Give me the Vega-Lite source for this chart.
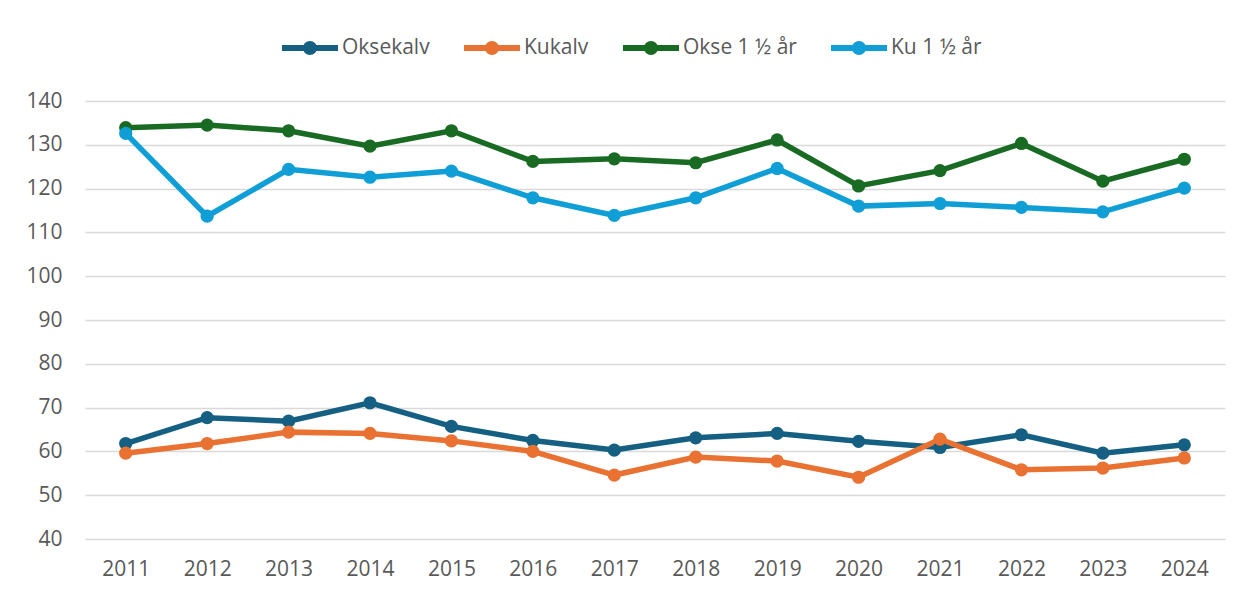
{
  "$schema": "https://vega.github.io/schema/vega-lite/v6.json",
  "width": 1140,
  "height": 438,
  "autosize": {"type": "none"},
  "padding": {"left": 85, "top": 101, "right": 27, "bottom": 55},
  "background": "white",
  "config": {
    "view": {"stroke": null},
    "font": "Open Sans"
  },
  "data": {
    "values": [
      {"year": "2011", "series": "Oksekalv", "value": 61.8},
      {"year": "2012", "series": "Oksekalv", "value": 67.7},
      {"year": "2013", "series": "Oksekalv", "value": 66.9},
      {"year": "2014", "series": "Oksekalv", "value": 71.1},
      {"year": "2015", "series": "Oksekalv", "value": 65.7},
      {"year": "2016", "series": "Oksekalv", "value": 62.5},
      {"year": "2017", "series": "Oksekalv", "value": 60.3},
      {"year": "2018", "series": "Oksekalv", "value": 63.1},
      {"year": "2019", "series": "Oksekalv", "value": 64.1},
      {"year": "2020", "series": "Oksekalv", "value": 62.3},
      {"year": "2021", "series": "Oksekalv", "value": 60.9},
      {"year": "2022", "series": "Oksekalv", "value": 63.8},
      {"year": "2023", "series": "Oksekalv", "value": 59.6},
      {"year": "2024", "series": "Oksekalv", "value": 61.5},
      {"year": "2011", "series": "Kukalv", "value": 59.6},
      {"year": "2012", "series": "Kukalv", "value": 61.8},
      {"year": "2013", "series": "Kukalv", "value": 64.4},
      {"year": "2014", "series": "Kukalv", "value": 64.1},
      {"year": "2015", "series": "Kukalv", "value": 62.4},
      {"year": "2016", "series": "Kukalv", "value": 60.0},
      {"year": "2017", "series": "Kukalv", "value": 54.6},
      {"year": "2018", "series": "Kukalv", "value": 58.7},
      {"year": "2019", "series": "Kukalv", "value": 57.8},
      {"year": "2020", "series": "Kukalv", "value": 54.1},
      {"year": "2021", "series": "Kukalv", "value": 62.8},
      {"year": "2022", "series": "Kukalv", "value": 55.8},
      {"year": "2023", "series": "Kukalv", "value": 56.2},
      {"year": "2024", "series": "Kukalv", "value": 58.5},
      {"year": "2011", "series": "Okse 1 ½ år", "value": 133.9},
      {"year": "2012", "series": "Okse 1 ½ år", "value": 134.5},
      {"year": "2013", "series": "Okse 1 ½ år", "value": 133.2},
      {"year": "2014", "series": "Okse 1 ½ år", "value": 129.7},
      {"year": "2015", "series": "Okse 1 ½ år", "value": 133.2},
      {"year": "2016", "series": "Okse 1 ½ år", "value": 126.2},
      {"year": "2017", "series": "Okse 1 ½ år", "value": 126.8},
      {"year": "2018", "series": "Okse 1 ½ år", "value": 125.9},
      {"year": "2019", "series": "Okse 1 ½ år", "value": 131.1},
      {"year": "2020", "series": "Okse 1 ½ år", "value": 120.6},
      {"year": "2021", "series": "Okse 1 ½ år", "value": 124.1},
      {"year": "2022", "series": "Okse 1 ½ år", "value": 130.3},
      {"year": "2023", "series": "Okse 1 ½ år", "value": 121.7},
      {"year": "2024", "series": "Okse 1 ½ år", "value": 126.7},
      {"year": "2011", "series": "Ku 1 ½ år", "value": 132.6},
      {"year": "2012", "series": "Ku 1 ½ år", "value": 113.7},
      {"year": "2013", "series": "Ku 1 ½ år", "value": 124.4},
      {"year": "2014", "series": "Ku 1 ½ år", "value": 122.6},
      {"year": "2015", "series": "Ku 1 ½ år", "value": 124.0},
      {"year": "2016", "series": "Ku 1 ½ år", "value": 117.9},
      {"year": "2017", "series": "Ku 1 ½ år", "value": 113.9},
      {"year": "2018", "series": "Ku 1 ½ år", "value": 117.9},
      {"year": "2019", "series": "Ku 1 ½ år", "value": 124.6},
      {"year": "2020", "series": "Ku 1 ½ år", "value": 116.0},
      {"year": "2021", "series": "Ku 1 ½ år", "value": 116.6},
      {"year": "2022", "series": "Ku 1 ½ år", "value": 115.7},
      {"year": "2023", "series": "Ku 1 ½ år", "value": 114.7},
      {"year": "2024", "series": "Ku 1 ½ år", "value": 120.1}
    ]
  },
  "encoding": {
    "x": {
      "field": "year",
      "type": "ordinal",
      "scale": {"type": "point", "padding": 0.5},
      "axis": {
        "title": null,
        "labelAngle": 0,
        "domain": false,
        "ticks": false,
        "grid": false,
        "labelFontSize": 21,
        "labelColor": "#595959",
        "labelPadding": 19
      }
    },
    "y": {
      "field": "value",
      "type": "quantitative",
      "scale": {"domain": [40, 140], "nice": false, "zero": false},
      "axis": {
        "title": null,
        "values": [40, 50, 60, 70, 80, 90, 100, 110, 120, 130, 140],
        "domain": false,
        "ticks": false,
        "grid": true,
        "gridColor": "#d9d9d9",
        "gridWidth": 1.5,
        "labelFontSize": 21,
        "labelColor": "#595959",
        "labelPadding": 23
      }
    },
    "color": {
      "field": "series",
      "type": "nominal",
      "sort": ["Oksekalv", "Kukalv", "Okse 1 ½ år", "Ku 1 ½ år"],
      "scale": {
        "domain": ["Oksekalv", "Kukalv", "Okse 1 ½ år", "Ku 1 ½ år"],
        "range": ["#156082", "#E97132", "#196B24", "#0F9ED5"]
      },
      "legend": {
        "title": null,
        "orient": "none",
        "direction": "horizontal",
        "legendX": 197,
        "legendY": -81,
        "symbolType": "M-1,-0.11L1,-0.11L1,0.11L-1,0.11Z M0.25,0A0.25,0.25 0 1,1 -0.25,0A0.25,0.25 0 1,1 0.25,0Z",
        "symbolSize": 3136,
        "symbolStrokeWidth": 0,
        "symbolOpacity": 1,
        "labelFontSize": 21,
        "labelColor": "#595959",
        "labelOffset": 4,
        "columnPadding": 34
      }
    }
  },
  "layer": [
    {
      "mark": {"type": "line", "strokeWidth": 5.5, "point": {"filled": true, "size": 175, "opacity": 1}}
    }
  ]
}
